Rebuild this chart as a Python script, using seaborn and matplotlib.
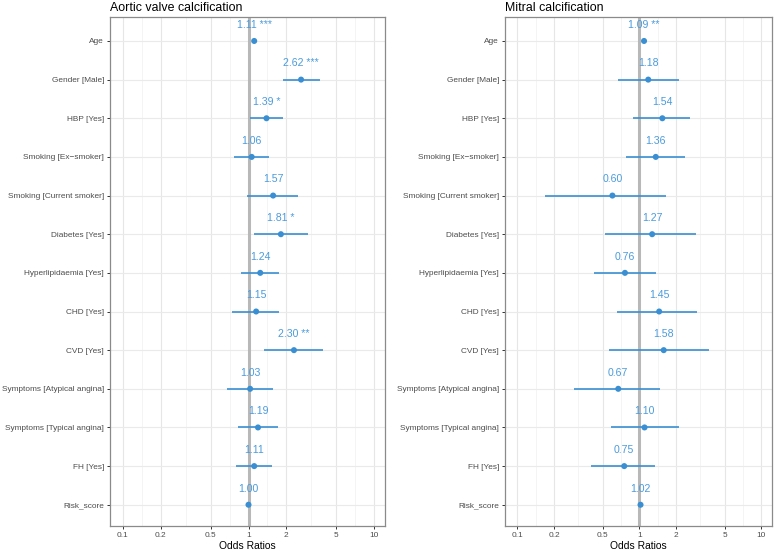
import numpy as np
import pandas as pd
import matplotlib
matplotlib.use("Agg")
import matplotlib.pyplot as plt
import seaborn as sns

# Terms (top to bottom)
terms = ["Age", "Gender [Male]", "HBP [Yes]", "Smoking [Ex\u2212smoker]",
         "Smoking [Current smoker]", "Diabetes [Yes]", "Hyperlipidaemia [Yes]",
         "CHD [Yes]", "CVD [Yes]", "Symptoms [Atypical angina]",
         "Symptoms [Typical angina]", "FH [Yes]", "Risk_score"]

# Aortic valve calcification
aortic_or = [1.11, 2.62, 1.39, 1.06, 1.57, 1.81, 1.24, 1.15, 2.30, 1.03, 1.19, 1.11, 1.00]
aortic_lo = [1.07, 1.89, 1.02, 0.76, 0.97, 1.10, 0.87, 0.74, 1.32, 0.68, 0.83, 0.79, 0.99]
aortic_hi = [1.15, 3.70, 1.89, 1.46, 2.48, 2.95, 1.75, 1.75, 3.93, 1.57, 1.72, 1.54, 1.01]
aortic_sig = ["***", "***", "*", "", "", "*", "", "", "**", "", "", "", ""]

# Mitral calcification
mitral_or = [1.09, 1.18, 1.54, 1.36, 0.60, 1.27, 0.76, 1.45, 1.58, 0.67, 1.10, 0.75, 1.02]
mitral_lo = [1.05, 0.67, 0.89, 0.78, 0.167, 0.52, 0.42, 0.65, 0.56, 0.29, 0.58, 0.40, 1.00]
mitral_hi = [1.13, 2.09, 2.60, 2.34, 1.65, 2.88, 1.37, 2.94, 3.68, 1.46, 2.09, 1.34, 1.04]
mitral_sig = ["**", "", "", "", "", "", "", "", "", "", "", "", ""]

x_breaks = [0.1, 0.2, 0.5, 1, 2, 5, 10]
x_labels = ["0.1", "0.2", "0.5", "1", "2", "5", "10"]

sns.set_theme(style="white")
plt.rcParams["font.family"] = ["Liberation Sans", "DejaVu Sans"]

blue = "#3a8fd2"
fig = plt.figure(figsize=(7.82, 5.51), dpi=100)

panels = [
    ("Aortic valve calcification", aortic_or, aortic_lo, aortic_hi, aortic_sig,
     [110 / 782, 25 / 551, 275 / 782, 509 / 551]),
    ("Mitral calcification", mitral_or, mitral_lo, mitral_hi, mitral_sig,
     [505 / 782, 25 / 551, 267 / 782, 509 / 551]),
]

# minor gridlines at geometric midpoints of the breaks
minor = [np.sqrt(a * b) for a, b in zip(x_breaks[:-1], x_breaks[1:])]

for title, orv, lo, hi, sig, rect in panels:
    ax = fig.add_axes(rect)
    df = pd.DataFrame({"term": terms, "or": orv, "lo": lo, "hi": hi, "sig": sig})
    df["pos"] = np.arange(len(df))

    ax.set_xscale("log")
    ax.set_xlim(0.079, 12.2)
    ax.set_ylim(len(df) - 1 + 0.55, -0.62)

    for m in minor:
        ax.axvline(m, color="#f0f0f0", lw=0.5, zorder=0)
    for b in x_breaks:
        ax.axvline(b, color="#e6e6e6", lw=0.8, zorder=0)
    for p in df["pos"]:
        ax.axhline(p, color="#eaeaea", lw=0.8, zorder=0)

    ax.axvline(1, color="#b8b8b8", lw=2.2, zorder=1)

    ax.hlines(df["pos"], df["lo"], df["hi"], color=blue, lw=1.2, zorder=2)
    sns.scatterplot(data=df, x="or", y="pos", color=blue, s=19, edgecolor="none",
                    zorder=3, ax=ax, legend=False)

    for _, r in df.iterrows():
        lab = f"{r['or']:.2f}" + (f" {r['sig']}" if r["sig"] else "")
        ax.text(r["or"], r["pos"] - 0.42, lab, ha="center", va="center",
                color="#4a9bdc", fontsize=7.6, zorder=4)

    ax.set_xticks(x_breaks)
    ax.set_xticklabels(x_labels)
    ax.xaxis.set_minor_locator(matplotlib.ticker.NullLocator())
    ax.set_yticks(df["pos"])
    ax.set_yticklabels(df["term"])
    ax.tick_params(axis="both", which="major", length=2.5, width=0.7, color="#333333",
                   labelcolor="#4d4d4d", labelsize=5.95, pad=1.8, bottom=True, left=True)
    for s in ax.spines.values():
        s.set_color("#8a8a8a")
        s.set_linewidth(0.9)
    ax.set_xlabel("Odds Ratios", fontsize=7.4, color="black", labelpad=1.5)
    ax.set_ylabel("")
    ax.set_title(title, loc="left", fontsize=8.9, color="black", pad=4)

fig.savefig("out.png", dpi=100)
